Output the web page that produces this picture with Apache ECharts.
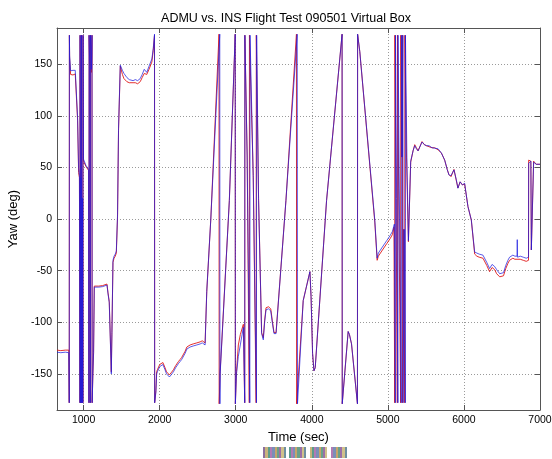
<!DOCTYPE html>
<html>
<head>
<meta charset="utf-8">
<script src="https://cdn.jsdelivr.net/npm/echarts@6/dist/echarts.min.js"></script>
<style>
  html, body { margin: 0; padding: 0; background: #fff; }
  #chart { width: 552px; height: 459px; }
</style>
</head>
<body>
<div id="chart"></div>
<script>
// INS (blue) and ADMU (red) yaw; wraps at +-180 kept as in the original
const blueTime = [650, 700, 760, 805, 811, 813, 816, 829, 845, 860, 875, 890, 905, 913, 921, 934, 945, 952, 954, 958, 962, 966, 970, 973, 977, 982, 986, 990, 993, 998, 1030, 1066, 1070, 1072, 1080, 1088, 1090, 1098, 1102, 1106, 1110, 1112, 1122, 1131, 1140, 1200, 1250, 1307, 1320, 1337, 1364, 1372, 1386, 1400, 1416, 1430, 1446, 1459, 1482, 1490, 1510, 1530, 1569, 1600, 1620, 1650, 1680, 1710, 1744, 1770, 1797, 1830, 1860, 1897, 1915, 1932, 1934, 1950, 1960, 1970, 2000, 2042, 2070, 2090, 2128, 2150, 2181, 2210, 2247, 2269, 2290, 2312, 2335, 2357, 2400, 2440, 2488, 2532, 2560, 2575, 2597, 2619, 2672, 2790, 2792, 2795, 2916, 2993, 2995, 3010, 3034, 3060, 3100, 3118, 3120, 3150, 3185, 3188, 3230, 3272, 3275, 3300, 3340, 3362, 3380, 3398, 3430, 3460, 3480, 3503, 3530, 3660, 3808, 3812, 3887, 3975, 3990, 4010, 4028, 4045, 4194, 4398, 4400, 4478, 4495, 4522, 4600, 4602, 4631, 4828, 4859, 4875, 4920, 4984, 5030, 5060, 5085, 5098, 5100, 5115, 5132, 5134, 5150, 5176, 5178, 5188, 5198, 5200, 5215, 5229, 5231, 5250, 5270, 5300, 5331, 5353, 5375, 5397, 5449, 5480, 5507, 5541, 5580, 5615, 5660, 5703, 5747, 5780, 5803, 5830, 5869, 5900, 5921, 5950, 5980, 6009, 6053, 6097, 6141, 6170, 6200, 6250, 6300, 6337, 6370, 6403, 6430, 6450, 6470, 6490, 6520, 6550, 6578, 6600, 6643, 6670, 6698, 6701, 6705, 6740, 6780, 6819, 6849, 6851, 6880, 6886, 6910, 6916, 6950, 7000];
const blueYaw = [-129, -129.5, -129, -129.5, -178, 178, 158, 143.5, 142.5, 144, 142.5, 144, 143, 143.5, 98, 49, 42, -178, 178, 60, -178, 40, -178, 178, 50, -178, 20, -178, 178, 58, 52, 48, -178, 178, 150, -178, 178, 165, 145, 158, 178, -178, -150, -130, -66, -66, -65.5, -64, -72, -81, -150, -112, -40, -36, -34, -31, 4, 88, 149, 149, 144, 141, 137, 135, 136, 134, 135, 134, 136, 140, 145, 142, 148, 155, 165, 179, -178, -168, -150, -148, -143, -141, -146, -150, -153, -151, -148, -144, -140, -138, -136, -137, -130, -126, -124, -123, -122, -121, -120, -119, -122, -70, 0, 179, -179, -150, 18, 179, -179, -150, -133, -122, -105, -178, 178, 60, -178, 178, 40, -178, 178, 18, -111, -117, -100, -88, -87, -89, -100, -111, -111, 18, 179, -179, -79, -51, -75, -130, -147, -144, 18, 179, -179, -109, -112, -121, -179, 179, 162, -1, -38, -33, -28, -21, -16, -12, -5, -178, 178, 20, -178, 178, 30, -178, 178, 60, 178, -178, -10, -178, 178, 60, -21, 56, 66, 71, 68, 66, 74.5, 72, 71, 71, 69, 68.6, 68, 64, 57, 48, 42.7, 42, 47.6, 38, 29.8, 36, 33, 34.6, 12, -1, -32, -33, -34, -35, -42, -48, -44, -46, -49, -50, -53, -54, -52, -45, -40, -37, -35, -36, -36, -20, -37, -36, -37, -38, -37, 54, 56, -30, -29, 55, 53, 53];

const redTime = [650, 700, 760, 805, 811, 813, 816, 829, 845, 860, 875, 890, 905, 913, 921, 934, 945, 952, 954, 958, 962, 966, 970, 973, 977, 982, 986, 990, 993, 998, 1030, 1066, 1070, 1072, 1080, 1088, 1090, 1098, 1102, 1106, 1110, 1112, 1122, 1131, 1140, 1200, 1250, 1307, 1320, 1337, 1364, 1372, 1386, 1400, 1416, 1430, 1446, 1459, 1482, 1490, 1510, 1530, 1569, 1600, 1620, 1650, 1680, 1710, 1744, 1770, 1797, 1830, 1860, 1897, 1915, 1932, 1934, 1950, 1960, 1970, 2000, 2042, 2070, 2090, 2128, 2150, 2181, 2210, 2247, 2269, 2290, 2312, 2335, 2357, 2400, 2440, 2488, 2532, 2560, 2575, 2597, 2619, 2672, 2780, 2782, 2795, 2916, 2993, 2995, 3010, 3034, 3060, 3100, 3118, 3120, 3150, 3178, 3180, 3230, 3268, 3270, 3300, 3340, 3362, 3380, 3398, 3430, 3460, 3480, 3503, 3530, 3660, 3798, 3800, 3887, 3975, 3990, 4010, 4028, 4045, 4194, 4398, 4400, 4478, 4495, 4522, 4600, 4602, 4631, 4828, 4859, 4875, 4920, 4984, 5030, 5060, 5080, 5090, 5092, 5108, 5124, 5126, 5142, 5168, 5170, 5182, 5192, 5194, 5208, 5222, 5224, 5245, 5270, 5300, 5331, 5353, 5375, 5397, 5449, 5480, 5507, 5541, 5580, 5615, 5660, 5703, 5747, 5780, 5803, 5830, 5869, 5900, 5921, 5950, 5980, 6009, 6053, 6097, 6141, 6170, 6200, 6250, 6300, 6337, 6370, 6403, 6430, 6450, 6470, 6490, 6520, 6550, 6578, 6600, 6643, 6670, 6698, 6701, 6705, 6740, 6780, 6819, 6849, 6851, 6880, 6886, 6910, 6916, 6950, 7000];
const redYaw = [-127, -127.5, -127, -127, -178, 178, 156, 140, 140.5, 139.5, 140, 140.5, 140, 140, 95, 45, 40, -178, 178, 58, -178, 38, -178, 178, 48, -178, 18, -178, 178, 56, 51, 47, -178, 178, 148, -178, 178, 150, 142, 150, 178, -178, -150, -129, -65, -65, -64.5, -63, -71, -80, -148, -110, -42, -38, -36, -33, 2, 86, 148, 148, 140, 136, 133, 132, 133, 132, 132, 131, 133, 137, 141, 140, 145, 152, 163, 178, -178, -166, -148, -146, -141, -139, -144, -148, -151, -149, -146, -142, -138, -136, -134, -135, -128, -124, -122, -121, -120, -119, -118, -117, -120, -70, 0, 179, -179, -148, 18, 179, -179, -148, -122, -112, -102, -178, 178, 62, -178, 178, 42, -178, 178, 20, -110, -115, -98, -86, -85, -87, -98, -110, -110, 18, 179, -179, -79, -51, -75, -130, -147, -144, 18, 179, -179, -109, -112, -121, -179, 179, 162, -3, -40, -36, -31, -24, -19, -15, -8, -178, 178, 20, -178, 178, 30, -178, 178, 60, 178, -178, -10, -178, 178, 60, -22, 55, 66, 72, 69, 66, 75, 72, 71, 70, 69, 69, 67, 64, 57, 48, 43, 41, 48, 37, 30, 36, 33, 34, 12, -1, -34, -36, -37, -38, -45, -51, -47, -49, -53, -54, -56, -57, -55, -48, -43, -40, -38, -39, -39, -39, -40, -39, -40, -41, -40, 57, 56, -30, -29, 56, 53, 53];

const xTicks = [1000, 2000, 3000, 4000, 5000, 6000, 7000];
const yTicks = [-150, -100, -50, 0, 50, 100, 150];

const FONT = 'Liberation Sans, Arial, sans-serif';
const AXIS_COLOR = '#555';

const zip = (ts, vs) => ts.map((t, i) => [t, vs[i]]);

// the legend in the source image is a few garbled swatches; mimic them as striped blocks
const stripeFill = (colors) => ({
  type: 'linear', x: 0, y: 0, x2: 1, y2: 0,
  colorStops: colors.flatMap((c, i) => [
    { offset: i / colors.length, color: c },
    { offset: (i + 1) / colors.length, color: c },
  ]),
});
const swatchColors = ['#8c6f9e', '#c9b37c', '#5e9c8c', '#b27ab4', '#7a8fb8', '#c7a46a', '#6aa08a', '#9b6fa8', '#d0c08a', '#6f8fa0'];

const chart = echarts.init(document.getElementById('chart'));

const baseX = {
  type: 'value',
  min: 650,
  max: 7000,
  axisLine: { show: true, onZero: false, lineStyle: { color: AXIS_COLOR, width: 1 } },
  axisTick: { show: true, inside: true, length: 5, customValues: xTicks, lineStyle: { color: AXIS_COLOR } },
};
const baseY = {
  type: 'value',
  min: -185,
  max: 185,
  axisLine: { show: true, onZero: false, lineStyle: { color: AXIS_COLOR, width: 1 } },
  axisTick: { show: true, inside: true, length: 5, customValues: yTicks, lineStyle: { color: AXIS_COLOR } },
};

chart.setOption({
  animation: false,
  backgroundColor: '#fff',
  title: {
    text: 'ADMU vs. INS Flight Test 090501 Virtual Box',
    left: 281,
    top: 7,
    textAlign: 'center',
    textStyle: { fontFamily: FONT, fontSize: 12.5, fontWeight: 'normal', color: '#000' },
  },
  grid: { left: 57, right: 12, top: 28, bottom: 49, outerBoundsMode: 'none' },
  xAxis: [
    {
      ...baseX,
      position: 'bottom',
      name: 'Time (sec)',
      nameLocation: 'middle',
      nameGap: 14,
      nameTextStyle: { fontFamily: FONT, fontSize: 13, color: '#000' },
      axisLabel: { customValues: xTicks, margin: 5, fontFamily: FONT, fontSize: 10.5, color: '#000', formatter: (v) => String(v) },
      splitLine: { show: true, lineStyle: { color: '#9a9a9a', type: [1, 2], width: 1 } },
    },
    {
      ...baseX,
      position: 'top',
      axisLabel: { show: false },
      splitLine: { show: false },
    },
  ],
  yAxis: [
    {
      ...baseY,
      position: 'left',
      name: 'Yaw (deg)',
      nameLocation: 'middle',
      nameGap: 28,
      nameTextStyle: { fontFamily: FONT, fontSize: 13, color: '#000' },
      axisLabel: { customValues: yTicks, margin: 5, fontFamily: FONT, fontSize: 10.5, color: '#000', formatter: (v) => String(v) },
      splitLine: { show: true, lineStyle: { color: '#9a9a9a', type: [1, 2], width: 1 } },
    },
    {
      ...baseY,
      position: 'right',
      axisLabel: { show: false },
      splitLine: { show: false },
    },
  ],
  series: [
    {
      name: 'ADMU',
      type: 'line',
      data: zip(redTime, redYaw),
      showSymbol: false,
      symbol: 'none',
      sampling: false,
      lineStyle: { color: '#e01818', width: 0.9 },
      z: 2,
    },
    {
      name: 'INS',
      type: 'line',
      data: zip(blueTime, blueYaw),
      showSymbol: false,
      symbol: 'none',
      sampling: false,
      lineStyle: { color: '#1a1ae0', width: 0.9, opacity: 0.8 },
      z: 3,
    },
  ],
  graphic: [
    { type: 'rect', shape: { x: 263, y: 447, width: 23, height: 11 }, style: { fill: stripeFill(swatchColors) } },
    { type: 'rect', shape: { x: 289, y: 447, width: 17, height: 11 }, style: { fill: stripeFill(swatchColors.slice(2)) } },
    { type: 'rect', shape: { x: 310, y: 447, width: 17, height: 11 }, style: { fill: stripeFill(swatchColors.slice(1, 9)) } },
    { type: 'rect', shape: { x: 331, y: 447, width: 16, height: 11 }, style: { fill: stripeFill(swatchColors.slice(3)) } },
  ],
});
</script>
</body>
</html>
